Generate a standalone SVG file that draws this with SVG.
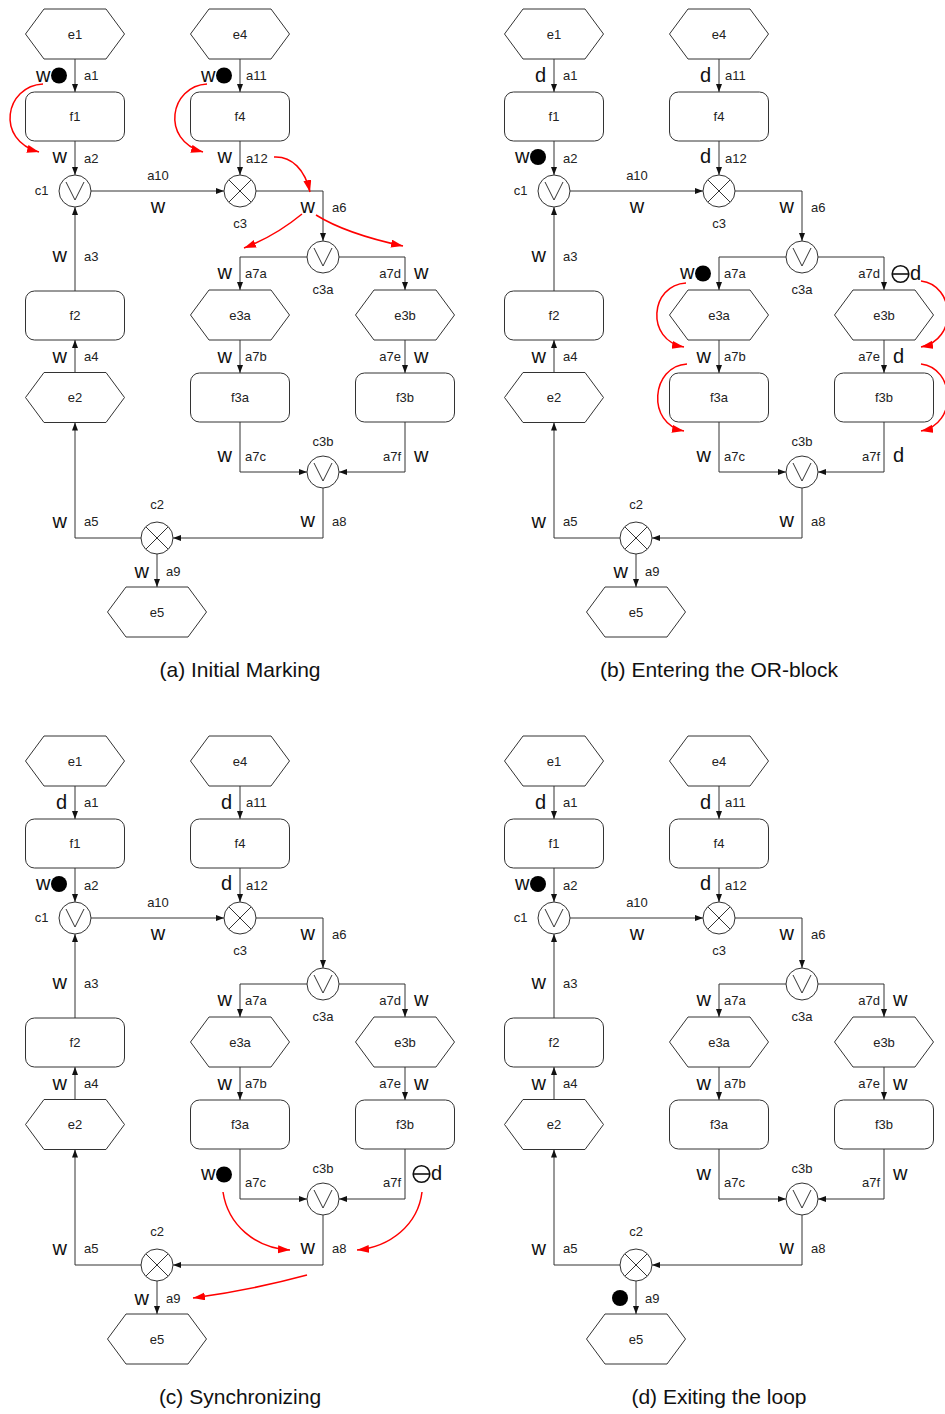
<svg xmlns="http://www.w3.org/2000/svg" width="945" height="1414" viewBox="0 0 945 1414">
  <style>
    text { font-family: "Liberation Sans", Arial, sans-serif; fill: #222; }
    .shape { fill: #fff; stroke: #333; stroke-width: 1; }
    .glyph { fill: none; stroke: #333; stroke-width: 1; }
    .n { font-size: 13px; text-anchor: middle; }
    .e { font-size: 13px; }
    .end { text-anchor: end; }
    .mid { text-anchor: middle; }
    .m { font-size: 20px; fill: #111; }
    .cap { font-size: 21px; text-anchor: middle; fill: #111; }
    .arc { fill: none; stroke: #333; stroke-width: 1; marker-end: url(#head); }
    .flow { fill: none; stroke: #f00; stroke-width: 1.5; marker-end: url(#redhead); }
    .tok { fill: #000; }
    .dead { fill: #fff; stroke: #111; stroke-width: 1.6; }
  </style>
  <defs>
    <marker id="head" markerWidth="8" markerHeight="6" refX="8" refY="3" orient="auto" markerUnits="userSpaceOnUse">
      <path d="M0,0 L8,3 L0,6 z" fill="#111"/>
    </marker>
    <marker id="redhead" markerWidth="13" markerHeight="9" refX="12" refY="4" orient="auto" markerUnits="userSpaceOnUse">
      <path d="M0,0 L12,4 L0,8 z" fill="#f00"/>
    </marker>
    <polygon id="hex" class="shape" points="-49.5,0 -31,-25 31,-25 49.5,0 31,25 -31,25"/>
    <rect id="fn" class="shape" x="-49.5" y="-24.5" width="99" height="49" rx="9"/>
    <g id="or">
      <circle class="shape" r="16"/>
      <path class="glyph" d="M-9,-9 L0,9 L9,-9"/>
    </g>
    <g id="xor">
      <circle class="shape" r="16"/>
      <path class="glyph" d="M-11,-11 L11,11 M11,-11 L-11,11"/>
    </g>
    <g id="deadtok">
      <circle class="dead" r="8.3"/>
      <path d="M-8.3,0 H8.3" stroke="#111" stroke-width="1.6"/>
    </g>
  </defs>

  <rect width="945" height="1414" fill="#fff"/>

  <!-- ===== (a) Initial Marking ===== -->
  <g id="panel-a">
    <g id="a-arcs">
      <path class="arc" d="M75,59 V92"/>
      <path class="arc" d="M75,141 V175"/>
      <path class="arc" d="M240,59 V92"/>
      <path class="arc" d="M240,141 V175"/>
      <path class="arc" d="M91,191 H224"/>
      <path class="arc" d="M256,191 H323 V241"/>
      <path class="arc" d="M307,257 H240 V290"/>
      <path class="arc" d="M339,257 H405 V290"/>
      <path class="arc" d="M240,340 V373"/>
      <path class="arc" d="M405,340 V373"/>
      <path class="arc" d="M240,422 V472 H307"/>
      <path class="arc" d="M405,422 V472 H339"/>
      <path class="arc" d="M323,488 V538 H173"/>
      <path class="arc" d="M141,538 H75 V422.5"/>
      <path class="arc" d="M75,372.5 V340"/>
      <path class="arc" d="M75,291 V207"/>
      <path class="arc" d="M157,554 V587"/>
    </g>
    <g id="a-e1" transform="translate(75,34)"><use href="#hex"/><text class="n" y="4.5">e1</text></g>
    <g id="a-f1" transform="translate(75,116.5)"><use href="#fn"/><text class="n" y="4.5">f1</text></g>
    <g id="a-e4" transform="translate(240,34)"><use href="#hex"/><text class="n" y="4.5">e4</text></g>
    <g id="a-f4" transform="translate(240,116.5)"><use href="#fn"/><text class="n" y="4.5">f4</text></g>
    <g id="a-c1" transform="translate(75,191)"><use href="#or"/><text class="n" x="-33.5" y="4">c1</text></g>
    <g id="a-c3" transform="translate(240,191)"><use href="#xor"/><text class="n" y="37">c3</text></g>
    <g id="a-c3a" transform="translate(323,257)"><use href="#or"/><text class="n" y="37">c3a</text></g>
    <g id="a-e3a" transform="translate(240,315)"><use href="#hex"/><text class="n" y="4.5">e3a</text></g>
    <g id="a-e3b" transform="translate(405,315)"><use href="#hex"/><text class="n" y="4.5">e3b</text></g>
    <g id="a-f3a" transform="translate(240,397.5)"><use href="#fn"/><text class="n" y="4.5">f3a</text></g>
    <g id="a-f3b" transform="translate(405,397.5)"><use href="#fn"/><text class="n" y="4.5">f3b</text></g>
    <g id="a-c3b" transform="translate(323,472)"><use href="#or"/><text class="n" y="-26">c3b</text></g>
    <g id="a-f2" transform="translate(75,315.5)"><use href="#fn"/><text class="n" y="4.5">f2</text></g>
    <g id="a-e2" transform="translate(75,397.5)"><use href="#hex"/><text class="n" y="4.5">e2</text></g>
    <g id="a-c2" transform="translate(157,538)"><use href="#xor"/><text class="n" y="-29">c2</text></g>
    <g id="a-e5" transform="translate(157,612)"><use href="#hex"/><text class="n" y="4.5">e5</text></g>
    <g id="a-arc-labels">
      <text class="e" x="84" y="80">a1</text>
      <text class="e" x="246" y="80">a11</text>
      <text class="e" x="84" y="163">a2</text>
      <text class="e" x="246" y="163">a12</text>
      <text class="e mid" x="158" y="180">a10</text>
      <text class="e" x="332" y="212">a6</text>
      <text class="e" x="245" y="278">a7a</text>
      <text class="e end" x="401" y="278">a7d</text>
      <text class="e" x="245" y="361">a7b</text>
      <text class="e end" x="401" y="361">a7e</text>
      <text class="e" x="245" y="461">a7c</text>
      <text class="e end" x="401" y="461">a7f</text>
      <text class="e" x="332" y="526">a8</text>
      <text class="e" x="84" y="526">a5</text>
      <text class="e" x="166" y="576">a9</text>
      <text class="e" x="84" y="261">a3</text>
      <text class="e" x="84" y="361">a4</text>
    </g>
    <g id="a-marks">
      <text class="m end" x="50.5" y="82">w</text><circle class="tok" cx="59" cy="75.5" r="8"/>
      <text class="m end" x="215.5" y="82">w</text><circle class="tok" cx="224" cy="75.5" r="8"/>
      <text class="m end" x="67" y="163">w</text>
      <text class="m end" x="232" y="163">w</text>
      <text class="m mid" x="158" y="213">w</text>
      <text class="m end" x="315" y="213">w</text>
      <text class="m end" x="232" y="279">w</text>
      <text class="m" x="414" y="279">w</text>
      <text class="m end" x="232" y="363">w</text>
      <text class="m" x="414" y="363">w</text>
      <text class="m end" x="232" y="462">w</text>
      <text class="m" x="414" y="462">w</text>
      <text class="m end" x="315" y="527">w</text>
      <text class="m end" x="67" y="528">w</text>
      <text class="m end" x="149" y="578">w</text>
      <text class="m end" x="67" y="262">w</text>
      <text class="m end" x="67" y="363">w</text>
    </g>
    <g id="a-flow">
      <path class="flow" d="M43,84 C5,86 -5,140 39,152"/>
      <path class="flow" d="M207,84 C170,86 160,140 203,152"/>
      <path class="flow" d="M274,157 C292,156 305,170 310,192"/>
      <path class="flow" d="M302,214 C285,228 265,240 244,248"/>
      <path class="flow" d="M316,215 C340,230 375,240 403,246"/>
    </g>
    <text class="cap" x="240" y="677">(a) Initial Marking</text>
  </g>

  <!-- ===== (b) Entering the OR-block ===== -->
  <g id="panel-b" transform="translate(479,0)">
    <g id="b-arcs">
      <path class="arc" d="M75,59 V92"/>
      <path class="arc" d="M75,141 V175"/>
      <path class="arc" d="M240,59 V92"/>
      <path class="arc" d="M240,141 V175"/>
      <path class="arc" d="M91,191 H224"/>
      <path class="arc" d="M256,191 H323 V241"/>
      <path class="arc" d="M307,257 H240 V290"/>
      <path class="arc" d="M339,257 H405 V290"/>
      <path class="arc" d="M240,340 V373"/>
      <path class="arc" d="M405,340 V373"/>
      <path class="arc" d="M240,422 V472 H307"/>
      <path class="arc" d="M405,422 V472 H339"/>
      <path class="arc" d="M323,488 V538 H173"/>
      <path class="arc" d="M141,538 H75 V422.5"/>
      <path class="arc" d="M75,372.5 V340"/>
      <path class="arc" d="M75,291 V207"/>
      <path class="arc" d="M157,554 V587"/>
    </g>
    <g id="b-e1" transform="translate(75,34)"><use href="#hex"/><text class="n" y="4.5">e1</text></g>
    <g id="b-f1" transform="translate(75,116.5)"><use href="#fn"/><text class="n" y="4.5">f1</text></g>
    <g id="b-e4" transform="translate(240,34)"><use href="#hex"/><text class="n" y="4.5">e4</text></g>
    <g id="b-f4" transform="translate(240,116.5)"><use href="#fn"/><text class="n" y="4.5">f4</text></g>
    <g id="b-c1" transform="translate(75,191)"><use href="#or"/><text class="n" x="-33.5" y="4">c1</text></g>
    <g id="b-c3" transform="translate(240,191)"><use href="#xor"/><text class="n" y="37">c3</text></g>
    <g id="b-c3a" transform="translate(323,257)"><use href="#or"/><text class="n" y="37">c3a</text></g>
    <g id="b-e3a" transform="translate(240,315)"><use href="#hex"/><text class="n" y="4.5">e3a</text></g>
    <g id="b-e3b" transform="translate(405,315)"><use href="#hex"/><text class="n" y="4.5">e3b</text></g>
    <g id="b-f3a" transform="translate(240,397.5)"><use href="#fn"/><text class="n" y="4.5">f3a</text></g>
    <g id="b-f3b" transform="translate(405,397.5)"><use href="#fn"/><text class="n" y="4.5">f3b</text></g>
    <g id="b-c3b" transform="translate(323,472)"><use href="#or"/><text class="n" y="-26">c3b</text></g>
    <g id="b-f2" transform="translate(75,315.5)"><use href="#fn"/><text class="n" y="4.5">f2</text></g>
    <g id="b-e2" transform="translate(75,397.5)"><use href="#hex"/><text class="n" y="4.5">e2</text></g>
    <g id="b-c2" transform="translate(157,538)"><use href="#xor"/><text class="n" y="-29">c2</text></g>
    <g id="b-e5" transform="translate(157,612)"><use href="#hex"/><text class="n" y="4.5">e5</text></g>
    <g id="b-arc-labels">
      <text class="e" x="84" y="80">a1</text>
      <text class="e" x="246" y="80">a11</text>
      <text class="e" x="84" y="163">a2</text>
      <text class="e" x="246" y="163">a12</text>
      <text class="e mid" x="158" y="180">a10</text>
      <text class="e" x="332" y="212">a6</text>
      <text class="e" x="245" y="278">a7a</text>
      <text class="e end" x="401" y="278">a7d</text>
      <text class="e" x="245" y="361">a7b</text>
      <text class="e end" x="401" y="361">a7e</text>
      <text class="e" x="245" y="461">a7c</text>
      <text class="e end" x="401" y="461">a7f</text>
      <text class="e" x="332" y="526">a8</text>
      <text class="e" x="84" y="526">a5</text>
      <text class="e" x="166" y="576">a9</text>
      <text class="e" x="84" y="261">a3</text>
      <text class="e" x="84" y="361">a4</text>
    </g>
    <g id="b-marks">
      <text class="m end" x="67" y="82">d</text>
      <text class="m end" x="232" y="82">d</text>
      <text class="m end" x="50.5" y="163">w</text><circle class="tok" cx="59" cy="157" r="8"/>
      <text class="m end" x="232" y="163">d</text>
      <text class="m mid" x="158" y="213">w</text>
      <text class="m end" x="315" y="213">w</text>
      <text class="m end" x="215.5" y="279">w</text><circle class="tok" cx="224" cy="273.5" r="8"/>
      <use href="#deadtok" x="421.5" y="274"/><text class="m" x="431" y="280">d</text>
      <text class="m end" x="232" y="363">w</text>
      <text class="m" x="414" y="363">d</text>
      <text class="m end" x="232" y="462">w</text>
      <text class="m" x="414" y="462">d</text>
      <text class="m end" x="315" y="527">w</text>
      <text class="m end" x="67" y="528">w</text>
      <text class="m end" x="149" y="578">w</text>
      <text class="m end" x="67" y="262">w</text>
      <text class="m end" x="67" y="363">w</text>
    </g>
    <g id="b-flow">
      <path class="flow" d="M207,283 C171,285 166,340 205,347"/>
      <path class="flow" d="M208,364 C172,366 167,424 205,431"/>
      <path class="flow" d="M442,281 C476,285 479,340 442,347"/>
      <path class="flow" d="M442,364 C476,368 479,424 442,431"/>
    </g>
    <text class="cap" x="240" y="677">(b) Entering the OR-block</text>
  </g>

  <!-- ===== (c) Synchronizing ===== -->
  <g id="panel-c" transform="translate(0,727)">
    <g id="c-arcs">
      <path class="arc" d="M75,59 V92"/>
      <path class="arc" d="M75,141 V175"/>
      <path class="arc" d="M240,59 V92"/>
      <path class="arc" d="M240,141 V175"/>
      <path class="arc" d="M91,191 H224"/>
      <path class="arc" d="M256,191 H323 V241"/>
      <path class="arc" d="M307,257 H240 V290"/>
      <path class="arc" d="M339,257 H405 V290"/>
      <path class="arc" d="M240,340 V373"/>
      <path class="arc" d="M405,340 V373"/>
      <path class="arc" d="M240,422 V472 H307"/>
      <path class="arc" d="M405,422 V472 H339"/>
      <path class="arc" d="M323,488 V538 H173"/>
      <path class="arc" d="M141,538 H75 V422.5"/>
      <path class="arc" d="M75,372.5 V340"/>
      <path class="arc" d="M75,291 V207"/>
      <path class="arc" d="M157,554 V587"/>
    </g>
    <g id="c-e1" transform="translate(75,34)"><use href="#hex"/><text class="n" y="4.5">e1</text></g>
    <g id="c-f1" transform="translate(75,116.5)"><use href="#fn"/><text class="n" y="4.5">f1</text></g>
    <g id="c-e4" transform="translate(240,34)"><use href="#hex"/><text class="n" y="4.5">e4</text></g>
    <g id="c-f4" transform="translate(240,116.5)"><use href="#fn"/><text class="n" y="4.5">f4</text></g>
    <g id="c-c1" transform="translate(75,191)"><use href="#or"/><text class="n" x="-33.5" y="4">c1</text></g>
    <g id="c-c3" transform="translate(240,191)"><use href="#xor"/><text class="n" y="37">c3</text></g>
    <g id="c-c3a" transform="translate(323,257)"><use href="#or"/><text class="n" y="37">c3a</text></g>
    <g id="c-e3a" transform="translate(240,315)"><use href="#hex"/><text class="n" y="4.5">e3a</text></g>
    <g id="c-e3b" transform="translate(405,315)"><use href="#hex"/><text class="n" y="4.5">e3b</text></g>
    <g id="c-f3a" transform="translate(240,397.5)"><use href="#fn"/><text class="n" y="4.5">f3a</text></g>
    <g id="c-f3b" transform="translate(405,397.5)"><use href="#fn"/><text class="n" y="4.5">f3b</text></g>
    <g id="c-c3b" transform="translate(323,472)"><use href="#or"/><text class="n" y="-26">c3b</text></g>
    <g id="c-f2" transform="translate(75,315.5)"><use href="#fn"/><text class="n" y="4.5">f2</text></g>
    <g id="c-e2" transform="translate(75,397.5)"><use href="#hex"/><text class="n" y="4.5">e2</text></g>
    <g id="c-c2" transform="translate(157,538)"><use href="#xor"/><text class="n" y="-29">c2</text></g>
    <g id="c-e5" transform="translate(157,612)"><use href="#hex"/><text class="n" y="4.5">e5</text></g>
    <g id="c-arc-labels">
      <text class="e" x="84" y="80">a1</text>
      <text class="e" x="246" y="80">a11</text>
      <text class="e" x="84" y="163">a2</text>
      <text class="e" x="246" y="163">a12</text>
      <text class="e mid" x="158" y="180">a10</text>
      <text class="e" x="332" y="212">a6</text>
      <text class="e" x="245" y="278">a7a</text>
      <text class="e end" x="401" y="278">a7d</text>
      <text class="e" x="245" y="361">a7b</text>
      <text class="e end" x="401" y="361">a7e</text>
      <text class="e" x="245" y="460">a7c</text>
      <text class="e end" x="401" y="460">a7f</text>
      <text class="e" x="332" y="526">a8</text>
      <text class="e" x="84" y="526">a5</text>
      <text class="e" x="166" y="576">a9</text>
      <text class="e" x="84" y="261">a3</text>
      <text class="e" x="84" y="361">a4</text>
    </g>
    <g id="c-marks">
      <text class="m end" x="67" y="82">d</text>
      <text class="m end" x="232" y="82">d</text>
      <text class="m end" x="50.5" y="163">w</text><circle class="tok" cx="59" cy="157" r="8"/>
      <text class="m end" x="232" y="163">d</text>
      <text class="m mid" x="158" y="213">w</text>
      <text class="m end" x="315" y="213">w</text>
      <text class="m end" x="232" y="279">w</text>
      <text class="m" x="414" y="279">w</text>
      <text class="m end" x="232" y="363">w</text>
      <text class="m" x="414" y="363">w</text>
      <text class="m end" x="215.5" y="453">w</text><circle class="tok" cx="224" cy="447.5" r="8"/>
      <use href="#deadtok" x="421.5" y="447"/><text class="m" x="431" y="453">d</text>
      <text class="m end" x="315" y="527">w</text>
      <text class="m end" x="67" y="528">w</text>
      <text class="m end" x="149" y="578">w</text>
      <text class="m end" x="67" y="262">w</text>
      <text class="m end" x="67" y="363">w</text>
    </g>
    <g id="c-flow">
      <path class="flow" d="M223,465 C228,498 255,521 290,523"/>
      <path class="flow" d="M422,465 C418,498 390,520 357,523"/>
      <path class="flow" d="M307,548 C270,558 230,566 193,571"/>
    </g>
    <text class="cap" x="240" y="677">(c) Synchronizing</text>
  </g>

  <!-- ===== (d) Exiting the loop ===== -->
  <g id="panel-d" transform="translate(479,727)">
    <g id="d-arcs">
      <path class="arc" d="M75,59 V92"/>
      <path class="arc" d="M75,141 V175"/>
      <path class="arc" d="M240,59 V92"/>
      <path class="arc" d="M240,141 V175"/>
      <path class="arc" d="M91,191 H224"/>
      <path class="arc" d="M256,191 H323 V241"/>
      <path class="arc" d="M307,257 H240 V290"/>
      <path class="arc" d="M339,257 H405 V290"/>
      <path class="arc" d="M240,340 V373"/>
      <path class="arc" d="M405,340 V373"/>
      <path class="arc" d="M240,422 V472 H307"/>
      <path class="arc" d="M405,422 V472 H339"/>
      <path class="arc" d="M323,488 V538 H173"/>
      <path class="arc" d="M141,538 H75 V422.5"/>
      <path class="arc" d="M75,372.5 V340"/>
      <path class="arc" d="M75,291 V207"/>
      <path class="arc" d="M157,554 V587"/>
    </g>
    <g id="d-e1" transform="translate(75,34)"><use href="#hex"/><text class="n" y="4.5">e1</text></g>
    <g id="d-f1" transform="translate(75,116.5)"><use href="#fn"/><text class="n" y="4.5">f1</text></g>
    <g id="d-e4" transform="translate(240,34)"><use href="#hex"/><text class="n" y="4.5">e4</text></g>
    <g id="d-f4" transform="translate(240,116.5)"><use href="#fn"/><text class="n" y="4.5">f4</text></g>
    <g id="d-c1" transform="translate(75,191)"><use href="#or"/><text class="n" x="-33.5" y="4">c1</text></g>
    <g id="d-c3" transform="translate(240,191)"><use href="#xor"/><text class="n" y="37">c3</text></g>
    <g id="d-c3a" transform="translate(323,257)"><use href="#or"/><text class="n" y="37">c3a</text></g>
    <g id="d-e3a" transform="translate(240,315)"><use href="#hex"/><text class="n" y="4.5">e3a</text></g>
    <g id="d-e3b" transform="translate(405,315)"><use href="#hex"/><text class="n" y="4.5">e3b</text></g>
    <g id="d-f3a" transform="translate(240,397.5)"><use href="#fn"/><text class="n" y="4.5">f3a</text></g>
    <g id="d-f3b" transform="translate(405,397.5)"><use href="#fn"/><text class="n" y="4.5">f3b</text></g>
    <g id="d-c3b" transform="translate(323,472)"><use href="#or"/><text class="n" y="-26">c3b</text></g>
    <g id="d-f2" transform="translate(75,315.5)"><use href="#fn"/><text class="n" y="4.5">f2</text></g>
    <g id="d-e2" transform="translate(75,397.5)"><use href="#hex"/><text class="n" y="4.5">e2</text></g>
    <g id="d-c2" transform="translate(157,538)"><use href="#xor"/><text class="n" y="-29">c2</text></g>
    <g id="d-e5" transform="translate(157,612)"><use href="#hex"/><text class="n" y="4.5">e5</text></g>
    <g id="d-arc-labels">
      <text class="e" x="84" y="80">a1</text>
      <text class="e" x="246" y="80">a11</text>
      <text class="e" x="84" y="163">a2</text>
      <text class="e" x="246" y="163">a12</text>
      <text class="e mid" x="158" y="180">a10</text>
      <text class="e" x="332" y="212">a6</text>
      <text class="e" x="245" y="278">a7a</text>
      <text class="e end" x="401" y="278">a7d</text>
      <text class="e" x="245" y="361">a7b</text>
      <text class="e end" x="401" y="361">a7e</text>
      <text class="e" x="245" y="460">a7c</text>
      <text class="e end" x="401" y="460">a7f</text>
      <text class="e" x="332" y="526">a8</text>
      <text class="e" x="84" y="526">a5</text>
      <text class="e" x="166" y="576">a9</text>
      <text class="e" x="84" y="261">a3</text>
      <text class="e" x="84" y="361">a4</text>
    </g>
    <g id="d-marks">
      <text class="m end" x="67" y="82">d</text>
      <text class="m end" x="232" y="82">d</text>
      <text class="m end" x="50.5" y="163">w</text><circle class="tok" cx="59" cy="157" r="8"/>
      <text class="m end" x="232" y="163">d</text>
      <text class="m mid" x="158" y="213">w</text>
      <text class="m end" x="315" y="213">w</text>
      <text class="m end" x="232" y="279">w</text>
      <text class="m" x="414" y="279">w</text>
      <text class="m end" x="232" y="363">w</text>
      <text class="m" x="414" y="363">w</text>
      <text class="m end" x="232" y="453">w</text>
      <text class="m" x="414" y="453">w</text>
      <text class="m end" x="315" y="527">w</text>
      <text class="m end" x="67" y="528">w</text>
      <circle class="tok" cx="141" cy="571" r="8"/>
      <text class="m end" x="67" y="262">w</text>
      <text class="m end" x="67" y="363">w</text>
    </g>
    <text class="cap" x="240" y="677">(d) Exiting the loop</text>
  </g>
</svg>
